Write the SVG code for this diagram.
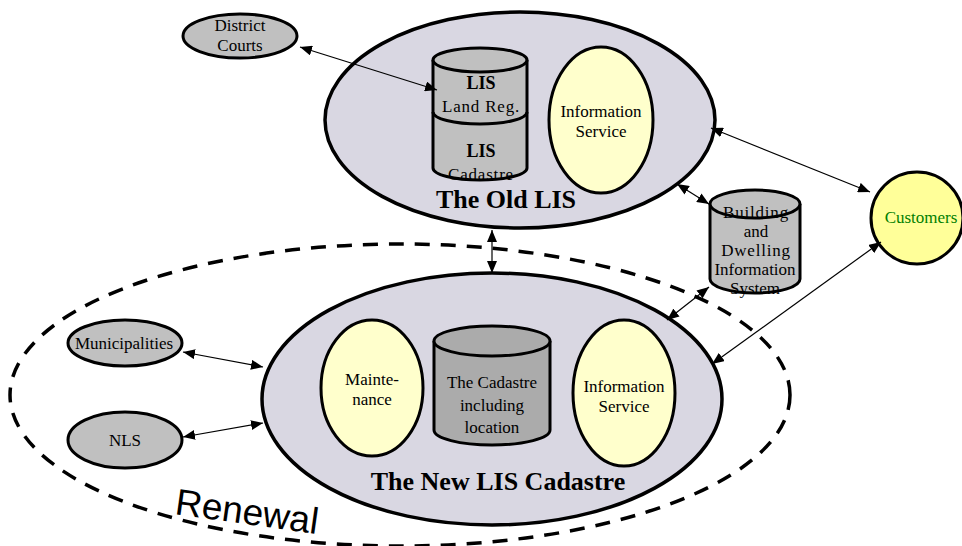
<svg xmlns="http://www.w3.org/2000/svg" width="962" height="546" viewBox="0 0 962 546" font-family="'Liberation Serif', 'Times New Roman', serif">
<defs>
<marker id="ah" viewBox="0 0 12 10" refX="12" refY="5" markerWidth="12" markerHeight="10" markerUnits="userSpaceOnUse" orient="auto-start-reverse">
<path d="M0,0 L12,5 L0,10 z" fill="#000"/>
</marker>
<style>
.big{fill:#d9d7e2;stroke:#000;stroke-width:3.5}
.grey{fill:#c0c0c0;stroke:#000;stroke-width:3}
.dark{fill:#ababab;stroke:#000;stroke-width:3}
.yel{fill:#ffffcc;stroke:#000;stroke-width:3}
.t{font-family:'Liberation Serif', 'Times New Roman', serif;font-size:17px;text-anchor:middle;fill:#000}
.b{font-family:'Liberation Serif', 'Times New Roman', serif;font-weight:bold;text-anchor:middle;fill:#000}
.c{fill:none;stroke:#000;stroke-width:1.2;marker-start:url(#ah);marker-end:url(#ah)}
</style>
</defs>
<rect width="962" height="546" fill="#fff"/>

<g id="renewal">
<ellipse cx="400" cy="395" rx="390" ry="151" fill="none" stroke="#000" stroke-width="3.5" stroke-dasharray="15,11"/>
<text x="174" y="514" transform="rotate(8 174 514)" font-family="'Liberation Sans', Arial, sans-serif" font-size="37" fill="#000">Renewal</text>
</g>

<g id="old-lis">
<ellipse class="big" cx="520" cy="120" rx="195" ry="108"/>
<text class="b" x="506" y="208" font-size="26">The Old LIS</text>
</g>

<g id="lis-cylinder">
<path class="grey" d="M433,60 V168 A47,12 0 0 0 527,168 V60"/>
<ellipse class="grey" cx="480" cy="60" rx="47" ry="12"/>
<path d="M433,112 A47,12 0 0 0 527,112" fill="none" stroke="#000" stroke-width="3"/>
<text class="b" x="481" y="89" font-size="18">LIS</text>
<text class="t" x="481" y="112" letter-spacing="0.8">Land Reg.</text>
<text class="b" x="481" y="157" font-size="18">LIS</text>
<text class="t" x="481" y="180" letter-spacing="0.8">Cadastre</text>
</g>

<g id="old-info">
<ellipse class="yel" cx="601" cy="120" rx="52" ry="73"/>
<text class="t" x="601" y="117">Information</text>
<text class="t" x="601" y="137">Service</text>
</g>

<g id="district-courts">
<ellipse class="grey" cx="240" cy="36" rx="57" ry="22"/>
<text class="t" x="240" y="31">District</text>
<text class="t" x="240" y="51">Courts</text>
</g>

<g id="building">
<path class="grey" d="M710,204 V279 A45,14 0 0 0 800,279 V204"/>
<ellipse class="grey" cx="755" cy="204" rx="45" ry="14"/>
<text class="t" x="756" y="218" letter-spacing="0.8">Building</text>
<text class="t" x="756" y="237">and</text>
<text class="t" x="756" y="256" letter-spacing="0.8">Dwelling</text>
<text class="t" x="755" y="275">Information</text>
<text class="t" x="755" y="294">System</text>
</g>

<g id="customers">
<circle cx="917" cy="218" r="46" fill="#ffff99" stroke="#000" stroke-width="3"/>
<text class="t" x="921" y="223" style="fill:#008000">Customers</text>
</g>

<g id="new-lis">
<ellipse class="big" cx="492" cy="399" rx="230" ry="126"/>
<text class="b" x="498" y="490" font-size="26">The New LIS Cadastre</text>
</g>

<g id="maintenance">
<ellipse class="yel" cx="372" cy="388" rx="51" ry="68"/>
<text class="t" x="372" y="385">Mainte-</text>
<text class="t" x="372" y="405">nance</text>
</g>

<g id="cadastre">
<path class="dark" d="M434,341 V430 A58,15 0 0 0 550,430 V341"/>
<ellipse class="dark" cx="492" cy="341" rx="58" ry="15"/>
<text class="t" x="492" y="388">The Cadastre</text>
<text class="t" x="492" y="411">including</text>
<text class="t" x="492" y="433">location</text>
</g>

<g id="new-info">
<ellipse class="yel" cx="624" cy="393" rx="51" ry="73"/>
<text class="t" x="624" y="392">Information</text>
<text class="t" x="624" y="412">Service</text>
</g>

<g id="municipalities">
<ellipse class="grey" cx="125" cy="343" rx="57" ry="23"/>
<text class="t" x="124" y="349" font-size="16.5">Municipalities</text>
</g>

<g id="nls">
<ellipse class="grey" cx="125" cy="440" rx="57" ry="28"/>
<text class="t" x="125" y="446">NLS</text>
</g>

<g id="connectors">
<line class="c" x1="300" y1="47" x2="437" y2="90"/>
<line class="c" x1="711" y1="128" x2="870" y2="192"/>
<line class="c" x1="677" y1="184" x2="709" y2="204"/>
<line class="c" x1="492" y1="230" x2="492" y2="273"/>
<line class="c" x1="709" y1="287" x2="667" y2="320"/>
<line class="c" x1="881" y1="242" x2="712" y2="364"/>
<line class="c" x1="183" y1="352" x2="263" y2="367"/>
<line class="c" x1="183" y1="437" x2="263" y2="423"/>
</g>
</svg>
